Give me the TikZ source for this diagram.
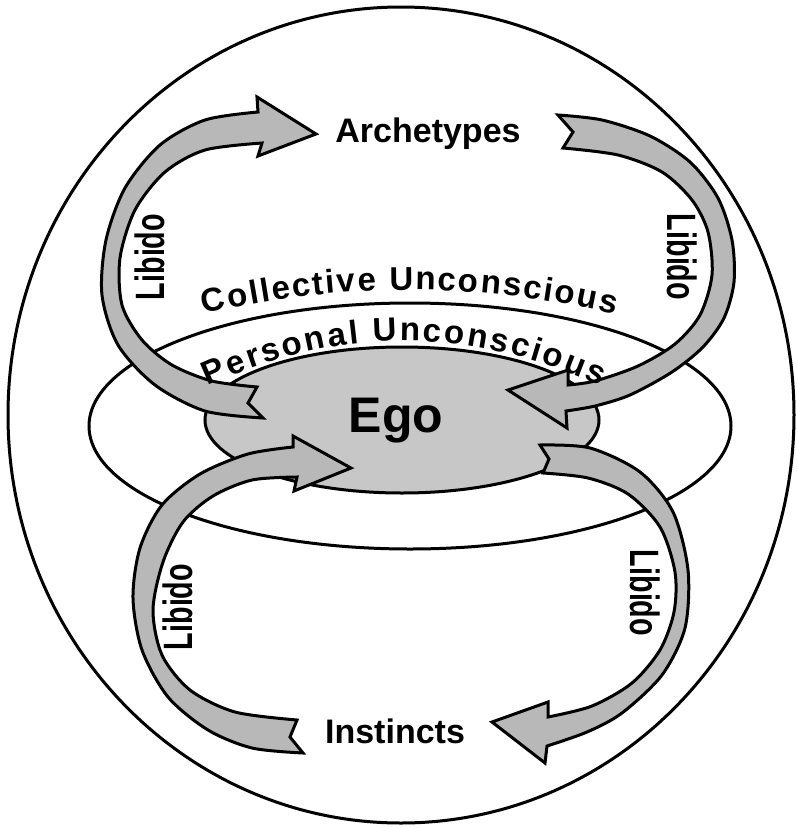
\documentclass[tikz,border=0pt]{standalone}
\usepackage{fontspec}
\setmainfont{Liberation Sans}
\newfontfamily\narrowsans[FakeStretch=0.7]{Liberation Sans}
\usetikzlibrary{decorations.text}

\begin{document}
\begin{tikzpicture}[x=1pt, y=-1pt, line width=3pt,
        ribbon/.style={draw=black, fill=black!28, line join=miter},
        bigword/.style={font=\bfseries\fontsize{34}{34}\selectfont, anchor=base},
        libido/.style={font=\narrowsans\bfseries\fontsize{41}{41}\selectfont},
        layer/.style={decorate, decoration={text along path, text align=fit to path,
            text={|\bfseries\fontsize{33}{33}\selectfont|#1}}}]
        \useasboundingbox (0,0) rectangle (797,828);
        % Draw the whole psyche and the unconscious layers
        \draw (401,415) ellipse (393 and 408);
        \draw (410,426) ellipse (321 and 123);
        % Draw the ego
        \draw[fill=black!22] (402,420) ellipse (197 and 73);
        % Libido from the ego up to the archetypes
        \draw[ribbon] (257,387) -- (248,403) -- (263,418)
            -- plot[smooth] coordinates {(263,418) (205,411) (155,385) (118,345) (102,295) (106,240) (125,188) (160,145) (205,120) (258,112)}
            -- (257,97) -- (316,134) -- (258,156)
            -- plot[smooth] coordinates {(262,143) (205,150) (165,172) (135,210) (120,258) (122,305) (142,340) (172,365) (212,381) (257,387)} -- cycle;
        % Libido from the archetypes back to the ego
        \draw[ribbon] (558,115)
            -- plot[smooth] coordinates {(558,115) (602,120) (650,136) (690,162) (718,198) (732,240) (734,282) (724,318) (703,347) (672,372) (630,395) (595,406) (566,411)}
            -- (567,428) -- (508,390) -- (568,370)
            -- plot[smooth] coordinates {(568,385) (595,381) (638,366) (675,344) (700,315) (712,275) (708,232) (692,200) (662,172) (618,155) (563,148)}
            -- (573,132) -- cycle;
        % Libido from the instincts up to the ego
        \draw[ribbon] (297,720) -- (290,737) -- (303,753)
            -- plot[smooth] coordinates {(303,753) (252,748) (208,730) (168,697) (142,650) (133,598) (140,548) (162,505) (200,474) (248,454) (293,447)}
            -- (293,436) -- (351,468) -- (294,491)
            -- plot[smooth] coordinates {(297,477) (252,480) (213,496) (183,522) (163,562) (153,610) (162,655) (190,690) (235,712) (297,720)} -- cycle;
        % Libido from the ego back to the instincts
        \draw[ribbon] (540,445)
            -- plot[smooth] coordinates {(540,445) (590,448) (640,472) (673,512) (688,570) (685,628) (662,675) (622,713) (587,732) (547,746)}
            -- (545,763) -- (492,722) -- (548,702)
            -- plot[smooth] coordinates {(548,717) (592,706) (632,683) (660,650) (674,612) (675,572) (660,527) (628,494) (588,478) (543,473)}
            -- (549,459) -- cycle;
        % Labels
        \path[layer={Collective Unconscious}] (204,314) .. controls (341,282) and (478,282) .. (615,314);
        \path[layer={Personal Unconscious}] (208,386) .. controls (339,326) and (469,326) .. (600,386);
        \node[bigword] (arch) at (428,142) {Archetypes};
        \node[bigword] (inst) at (395,743) {Instincts};
        \node[font=\bfseries\fontsize{50}{50}\selectfont, anchor=base] (ego) at (396,432) {Ego};
        \node[libido, rotate=90] (libtl) at (150,257) {Libido};
        \node[libido, rotate=-90] (libtr) at (682,257) {Libido};
        \node[libido, rotate=90] (libbl) at (178,607) {Libido};
        \node[libido, rotate=-90] (libbr) at (645,593) {Libido};
    \end{tikzpicture}
\end{document}
